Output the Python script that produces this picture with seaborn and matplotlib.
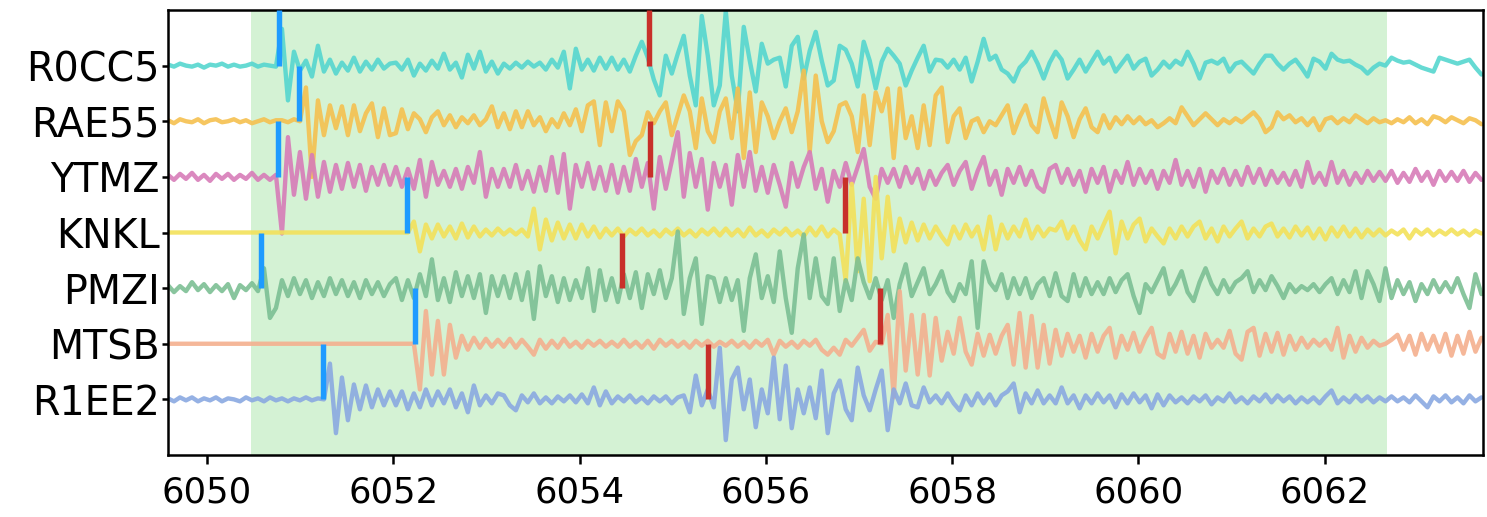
import numpy as np
import pandas as pd
import seaborn as sns
import matplotlib.pyplot as plt

# Stations, top to bottom
stations = ["R0CC5", "RAE55", "YTMZ", "KNKL", "PMZI", "MTSB", "R1EE2"]
colors = ["#55d6cf", "#f5c04f", "#d77cb8", "#f3e15a", "#7cbf94", "#f4b08e", "#8aa9e1"]

# Common sampling of all traces
start_time = 6049.58
delta = 0.0644

# Amplitudes (counts)
r0cc5 = [1, -1, 2, 0, -1, 1, -2, 1, 0, 2, -1, 1, -1, 0, 2, -1, 1, 0, -1,
         37, -35, 14, -5, 5, -11, 20, -6, 6, -8, 3, -5, 8, -6, 4, -4, 6, -3, 2,
         3, -4, 6, -10, 2, -5, 5, -3, 12, -4, 3, -12, 11, -3, 14, -6, 4, -8,
         2, -3, 3, -2, 4, -1, 3, -4, 6, -2, 14, -23, 17, -4, 6, -5, 8, -3,
         8, -4, 6, -6, 10, 24, 8, -14, -30, 10, -8, 12, 30, -10, -40, 50, 10, -40, -20,
         55, -10, -46, 39, 5, -26, 22, 2, 6, 8, -21, 20, 29, -13, 15, 34, 5, -20,
         -15, 20, 16, 2, -21, 24, 5, -23, 4, 17, 10, 2, -20, -5, 8, 20, -6, 6,
         5, -2, 6, -4, 8, -16, 4, 27, 6, 10, -4, -8, -16, -2, 4, 14, 2, -13, 3,
         14, 6, -13, -4, 6, -6, 4, 14, 2, 8, -6, 2, 10, -3, 4, 7, -10, -4,
         4, -2, 5, 1, 14, 2, -13, 3, 5, 2, 7, -6, 2, 4, -2, -8, 2, 10,
         10, 2, -4, 2, 6, -2, -11, 7, 4, -3, 12, 6, 4, 5, 1, -2, -8, -2, 2,
         0, 8, 5, 3, 4, 1, -2, -4, -6, 8, 6, 4, 2, 4, 6, -2, -9]

rae55 = [1, -2, 2, 0, -1, 2, -2, 1, 2, -1, 0, 2, -1, 1, -2, 0, 2, -1, 1,
         1, -1, 2, 0, 34, -56, 21, -14, 16, -7, 15, -14, 16, -10, 8, 18, -16, 13, -14,
         -12, 12, -8, 8, 2, -11, 4, 10, -4, 6, -6, 4, -2, 6, -4, 2, 15, -6,
         8, -8, 10, -6, 10, -4, 4, -10, 2, -6, 8, -4, 12, -10, 16, 20, -24, 19,
         -10, 20, 10, -34, -20, -14, 9, -2, 10, 19, -14, 6, 26, 10, -27, 23, -10, -21, 10,
         23, -17, 33, -37, 29, -31, 19, 5, -17, 0, 13, -11, 10, 51, -31, 46, 0, -21,
         -10, 16, 19, 5, -31, 26, -24, 29, 10, 33, -37, 33, -17, 5, -27, 16, -24, 26,
         34, -21, 5, 13, -17, 0, 3, -11, 0, -4, 6, 16, -12, 4, 16, -4, -11, 23, 2,
         -16, 19, 5, -16, 2, 13, -6, -11, 6, -7, 4, -3, 5, -2, 4, -3, 1, -6,
         -2, 3, -2, 14, 5, -4, 2, 8, 2, -4, 2, -2, 3, -1, 4, 9, 2, -11,
         -6, 9, 2, 6, -1, 3, -4, 3, -9, 2, 4, -2, 3, -1, 6, 2, -2, 3, -1,
         1, -2, 2, -1, 4, -2, 2, -3, 5, 3, -1, 4, 1, -2, 3, 1, -3]

ytmz = [2, -3, 3, -2, 4, -3, 2, -4, 3, -2, 3, -3, 2, -2, 4, -3, 2, -3, 2,
        -57, 40, -18, 25, -22, 22, -20, 15, -15, 12, -12, 14, -10, 12, -14, 10, -8, 12, -8,
        10, -10, 8, -12, 17, -20, 15, -8, 6, -10, 8, -12, 10, -6, 25, -20, 8, -10,
        8, -10, 12, -12, 6, -15, 10, -14, 20, -16, 23, -32, 12, -10, 14, -12, 10, -14,
        12, -16, 10, -14, 18, -10, 14, -32, 20, -12, 16, 45, -20, 24, -10, 18, -33, 14, -10,
        12, -28, 22, -10, 25, -14, 10, -16, 12, -8, -30, 14, -10, 10, 25, -12, 8, -25,
        6, -10, 14, -8, 10, 28, -10, -22, 8, -6, 8, -10, 10, -6, 8, -12, 6, -8,
        4, 12, -8, 6, 15, -12, 6, 20, -8, 6, -18, 8, -6, 10, -8, 6, -10, -15, 8,
        12, -6, 8, -8, 6, -15, 8, -6, 10, -15, 6, -6, 15, -8, 8, -6, 6, -12,
        6, -6, 17, -8, 6, -10, 8, -15, 6, -6, 8, -8, 6, -8, 10, -6, 8, -8,
        6, -6, 4, -8, 6, -10, 15, -6, 4, -8, 15, -6, 6, -8, 4, -6, 6, -4, 5,
        -4, 6, -6, 4, -5, 8, -4, 5, -8, 6, -4, 5, -4, 6, -5, 4, -3]

knkl = [0] * 19 + [0] * 19 + [
        0, 0, 0, 11, -19, 8, -6, 8, -4, 6, -6, 9, -5, 6, -4, 3, -3, 4,
        -2, 3, -2, 3, -4, 24, -17, 13, -8, 10, -6, 8, -6, 8, -4, 6, -5, 4,
        -3, 4, -4, 3, -2, 4, -3, 2, -4, 3, -2, 4, -3, 2, -4, 3, -2, 4, -3,
        4, -3, 3, -4, 5, -3, 2, -4, 3, -2, 4, -3, 2, -4, 5, -3, 6, -4,
        3, -2, -49, 49, -39, 34, -49, 56, -26, 36, -19, 14, -10, 10, -8, 8, -6, 6,
        -4, -12, 6, -6, 8, -4, 6, -17, 16, -17, 8, -6, 6, -4, 13, -6, 6, -4, 4,
        2, 11, -6, 6, -8, -17, 6, -6, 8, 21, -21, 11, -6, 8, 14, -9, 4, -4,
        -11, 4, -6, 6, -4, 6, 11, -6, 4, -9, 6, -4, 4, 11, -6, 4, -4, 6,
        9, -4, 4, -5, 6, -3, 5, -6, 4, -7, 5, -4, 6, -4, 4, -5, 3, -3, 3,
        -3, 2, -2, 3, -6, 3, -2, 3, -3, 2, -2, 3, -2, 2, -3, 2, -1]

pmzi = [3, -4, 2, -3, 6, -2, 4, -4, 3, -3, 4, -10, 3, -2, 5, -3, 20, -30, -20,
        8, -8, 10, -6, 8, -10, 6, -8, 10, -6, 8, -8, 6, -10, 8, -6, 6, -8, 4,
        10, -12, 8, -10, 14, -8, 29, -12, 10, -14, 16, -8, 12, -10, 14, -25, 12, -8,
        12, -10, 14, -12, 16, -31, 22, -8, 12, -14, 10, -12, 8, -10, 20, -23, 18, -12,
        10, -14, 14, -10, 16, -20, 14, -6, 18, -10, 10, 57, -26, 10, 30, -36, 12, 10, -14,
        10, -12, 8, -43, 10, 34, -10, 12, -14, 37, -10, -45, 20, 54, -10, 30, -8, -16,
        30, -23, 8, -12, 30, 6, -10, 10, -12, 8, -30, 4, 24, -8, 6, 20, -6, 4,
        17, -4, -13, 4, -6, 27, -40, 27, 6, -2, 14, -10, 10, -6, 10, -10, 4, 10, -8,
        15, -8, -13, 14, -8, 10, -6, 6, -6, 10, -4, 8, 14, -8, -25, 4, -4, 8,
        20, -6, 4, 17, -4, -13, 6, 20, 4, -6, 8, -4, 6, 10, 17, -4, 8, -2,
        12, 2, -10, 4, -4, 2, -2, 4, -4, 4, 10, -6, 8, -4, 17, -10, 17, 4, -13,
        20, -10, 8, -6, 6, -13, 4, -6, 8, -4, 6, -4, 10, -6, -20, 14, -6]

mtsb = [0] * 19 + [0] * 19 + [
        0, 0, 0, 0, -46, 33, -31, 23, -31, 19, -14, 8, -6, 6, -4, 5, -3, 4,
        -3, 5, -4, 4, -3, -11, 4, -5, 3, -4, 5, -3, 2, -4, 3, -2, 3, -3,
        2, -3, 4, -3, 2, -4, 3, -5, 4, -2, 3, -3, 2, -4, 3, -2, 3, -3, 2,
        -2, 3, -3, 2, -4, 3, -2, 4, -11, 3, -3, 2, -4, 3, -2, 4, -6, -11,
        -4, -11, 4, -2, 6, 14, -7, 2, 0, 29, -54, 53, -27, 29, -31, 29, -32, 26,
        -17, 12, -10, 26, -8, -21, 10, -12, 9, -10, 8, 19, -21, 31, -24, 28, -24, 19, -20,
        14, -12, 10, -8, 8, -14, 10, -8, 8, 16, -14, 8, -6, 11, -8, 6, 16, -10,
        -14, 10, -8, 12, -10, 8, -14, 10, -4, 4, -4, 13, -10, -16, 12, 16, -12, 10,
        -8, 11, -11, 8, -6, 6, -4, 4, -2, 4, -6, 16, -14, 8, -8, 6, -4, 3, -2,
        0, 4, 9, -6, 8, -11, 10, -6, 8, -8, 10, -12, 8, -10, 12, -8, 6]

r1ee2 = [1, -2, 2, -1, 2, -2, 1, -1, 2, -2, 1, 0, -2, 2, -1, 1, -2, 2, -1,
         1, -2, 1, -1, 2, -1, 1, 0, 36, -34, 22, -21, 15, -10, 14, -8, 10, -6, 8,
         -6, 8, -10, 6, -8, 10, -6, 8, -4, 10, -8, 6, -13, 14, -6, 4, -4, 6,
         4, -6, -11, 4, -3, 6, -4, 2, -4, 3, -2, 4, -3, 5, -4, 12, -6, 8,
         -4, 3, -2, 4, -3, 2, -4, 3, -2, 3, -4, 2, 4, -13, 24, -6, 10, -8, 52,
         -41, 20, 32, -10, 20, -28, 10, -14, 42, -20, 34, -29, 10, -14, 12, -19, 29, -34,
         6, 19, -10, -21, 32, 4, -11, 10, 29, -31, 10, -4, 16, -6, -8, 12, -3, 4,
         -4, 6, -4, -11, 4, -6, 6, -4, 5, -6, 4, 8, 16, -13, 6, -4, 9, -4, 4,
         -4, 12, -4, 4, -9, 4, -4, 6, -3, 4, -8, 5, -4, 6, -3, 4, -9, 5,
         -6, 4, -3, 2, -4, 3, -2, 4, -5, 2, -2, 6, -3, 2, -4, 3, -2, 5,
         -3, 4, -2, 3, -4, 2, -3, 2, -4, 3, 9, -4, 2, -3, 4, -2, 3, -3, 2,
         -2, 3, -2, 2, -3, 4, -2, -8, 3, -2, 4, -3, 2, -4, 4, -2, 2]

traces = [r0cc5, rae55, ytmz, knkl, pmzi, mtsb, r1ee2]

# Phase picks (s); RAE55 has no S pick
p_picks = [6050.775, 6050.99, 6050.76, 6052.15, 6050.58, 6052.23, 6051.24]
s_picks = [6054.75, np.nan, 6054.76, 6056.85, 6054.45, 6057.23, 6055.38]

# Analysis window
window_start, window_end = 6050.47, 6062.67

gain = 56.0  # counts per trace spacing
n = len(stations)
offsets = [n - 1 - i for i in range(n)]

frames = []
for name, off, amp in zip(stations, offsets, traces):
    amp = np.asarray(amp, dtype=float)
    t = start_time + delta * np.arange(len(amp))
    frames.append(pd.DataFrame({"time": t, "y": off + amp / gain, "station": name}))
df = pd.concat(frames, ignore_index=True)

sns.set_theme(style="ticks")
plt.rcParams["font.family"] = ["DejaVu Sans"]

fig = plt.figure(figsize=(1487 / 150, 517 / 150), dpi=150)
ax = fig.add_axes([168 / 1487, 62 / 517, 1315 / 1487, 445 / 517])

ax.axvspan(window_start, window_end, color="#d4f2d4", zorder=0, lw=0)

sns.lineplot(data=df, x="time", y="y", hue="station", hue_order=stations,
             palette=dict(zip(stations, colors)), units="station", estimator=None,
             sort=False, linewidth=2.1, alpha=0.9, legend=False, ax=ax, zorder=2)

for off, tp, ts in zip(offsets, p_picks, s_picks):
    ax.vlines(tp, off, off + 1, color="#1e9bff", linewidth=2.6, zorder=3)
    if not np.isnan(ts):
        ax.vlines(ts, off, off + 1, color="#c8302a", linewidth=2.6, zorder=3)

ax.set_xlim(6049.58, 6063.70)
ax.set_ylim(-1, 7)
ax.set_yticks(offsets)
ax.set_yticklabels(stations)
ax.set_xticks(np.arange(6050, 6063, 2))
ax.set_xlabel("")
ax.set_ylabel("")
ax.tick_params(axis="x", labelsize=17, colors="black", length=4.5, width=1.2, pad=5.5)
ax.tick_params(axis="y", labelsize=19, colors="black", length=3, width=1.2, pad=1)
for s in ax.spines.values():
    s.set_color("black")
    s.set_linewidth(1.2)

fig.savefig("out.png", dpi=150)
